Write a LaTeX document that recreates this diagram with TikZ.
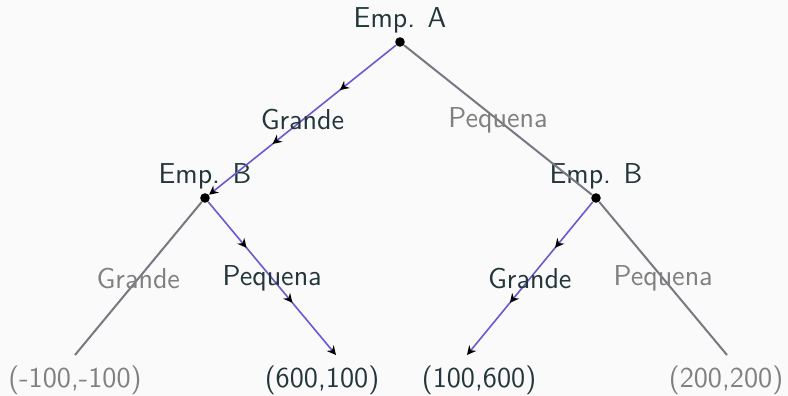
\documentclass[tikz,border=0pt]{standalone}
\usepackage{xcolor}
\usepackage{tikz}
\usetikzlibrary{arrows.meta,decorations.markings}
\definecolor{DarkTeal}{RGB}{35,55,59}
\definecolor{PathBlue}{RGB}{106,90,205}
\definecolor{EdgeGray}{RGB}{120,120,130}
\definecolor{TextGray}{RGB}{128,128,128}
\definecolor{BgGray}{RGB}{250,250,250}

\begin{document}
\begin{tikzpicture}[
 x=0.5pt, y=-0.5pt,
 dot/.style={circle, fill=black, inner sep=0pt, minimum size=4.8pt},
 eq/.style={draw=PathBlue, line width=0.8pt, -{Stealth[length=4.5pt,width=4.5pt,color=black]}, postaction={decorate},
  decoration={markings, mark=at position 0.3 with {\arrow{Stealth[length=4.5pt,width=4.5pt,color=black]}},
   mark=at position 0.66 with {\arrow{Stealth[length=4.5pt,width=4.5pt,color=black]}}}},
 alt/.style={draw=EdgeGray, line width=1pt},
 lbl/.style={text=DarkTeal},
 off/.style={text=TextGray},
 font=\fontsize{14.4}{17}\selectfont\sffamily
]
\fill[BgGray] (0,0) rectangle (788,396);
\useasboundingbox (0,0) rectangle (788,396);

\node[dot] (a) at (400,42) {};
\node[dot] (bl) at (205,198) {};
\node[dot] (br) at (596,198) {};
\coordinate (ll) at (75,355);
\coordinate (lr) at (336,355);
\coordinate (rl) at (467,355);
\coordinate (rr) at (727,355);

\node[lbl, anchor=base] (pa) at (400,27) {Emp. A};
\node[lbl, anchor=base] (pbl) at (205,183) {Emp. B};
\node[lbl, anchor=base] (pbr) at (596,183) {Emp. B};

\draw[eq] (a) -- node[lbl] {Grande} (bl);
\draw[alt] (a) -- node[off] {Pequena} (br);
\draw[alt] (bl) -- node[off] {Grande} (ll);
\draw[eq] (bl) -- node[lbl] {Pequena} (lr);
\draw[eq] (br) -- node[lbl] {Grande} (rl);
\draw[alt] (br) -- node[off] {Pequena} (rr);

\node[off, anchor=base] (oll) at (75,387) {(-100,-100)};
\node[lbl, anchor=base] (olr) at (322,387) {(600,100)};
\node[lbl, anchor=base] (orl) at (479,387) {(100,600)};
\node[off, anchor=base] (orr) at (726,387) {(200,200)};
\end{tikzpicture}
\end{document}
